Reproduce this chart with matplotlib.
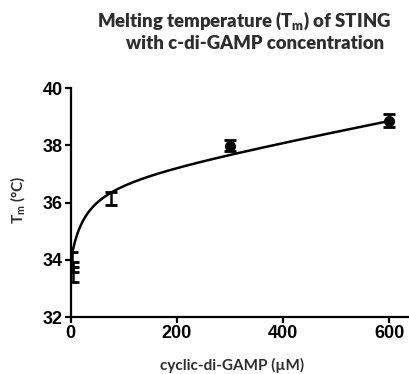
import numpy as np
import matplotlib
matplotlib.use("Agg")
import matplotlib.pyplot as plt

# data
conc = [3, 4, 5, 75, 300, 600]
tm = [34.02, 33.76, 33.50, 36.15, 37.99, 38.86]
tm_err = [0.26, 0.18, 0.26, 0.22, 0.2, 0.23]
show_marker = [False, False, False, False, True, True]

# points along the fitted curve
curve_x = [2, 16, 29, 41, 54, 70, 77, 137, 200, 262, 300, 457, 600]
curve_y = [34.2, 34.96, 35.53, 35.94, 36.17, 36.29, 36.35, 36.81, 37.16, 37.45, 37.72, 38.32, 38.86]

xticks = [0, 200, 400, 600]
yticks = [32, 34, 36, 38, 40]

# smooth the curve: hyperbola + linear term, least squares over a grid of K
cx = np.array(curve_x, float)
cy = np.array(curve_y, float)
best = None
for k in np.linspace(2, 200, 400):
    A = np.column_stack([np.ones_like(cx), cx / (k + cx), cx])
    coef, res, _, _ = np.linalg.lstsq(A, cy, rcond=None)
    err = np.sum((A @ coef - cy) ** 2)
    if best is None or err < best[0]:
        best = (err, k, coef)
_, k, coef = best
xs = np.linspace(min(curve_x), max(curve_x), 400)
ys = coef[0] + coef[1] * xs / (k + xs) + coef[2] * xs

plt.rcParams["mathtext.fontset"] = "custom"
plt.rcParams["mathtext.rm"] = "Lato:bold"
plt.rcParams["mathtext.it"] = "Lato:bold"

grey = "#2e2e2e"
fig = plt.figure(figsize=(4.09, 3.74), dpi=100)
ax = fig.add_axes([0.173, 0.152, 0.827, 0.612])

ax.plot(xs, ys, color="black", lw=1.8, zorder=2)
for x, y, e, m in zip(conc, tm, tm_err, show_marker):
    ax.errorbar(x, y, yerr=e, fmt="o" if m else "none", color="black",
                ms=7, elinewidth=1.8, capsize=4.5, capthick=2, zorder=3)

ax.set_xlim(0, 637)
ax.set_ylim(32, 40)
ax.set_xticks(xticks)
ax.set_yticks(yticks)
for s in ["top", "right"]:
    ax.spines[s].set_visible(False)
for s in ["left", "bottom"]:
    ax.spines[s].set_linewidth(1.6)
ax.tick_params(width=1.6, length=4, pad=2)
for lab in ax.get_xticklabels() + ax.get_yticklabels():
    lab.set_fontfamily("Liberation Sans")
    lab.set_fontweight("bold")
    lab.set_fontsize(13)

fig.text(0.567, 0.022, "cyclic-di-GAMP (\u00b5M)", ha="center", va="center",
         family="Lato", weight=700, size=11, color=grey)
fig.text(0.043, 0.465, "T$_\\mathregular{m}$ (\u00b0C)", rotation=90, ha="center", va="center",
         family="Lato", weight=700, size=11, color=grey)
fig.text(0.597, 0.945, "Melting temperature (T$_\\mathregular{m}$) of STING", ha="center", va="center",
         family="Lato", weight=800, size=13.3, color=grey)
fig.text(0.623, 0.885, "with c-di-GAMP concentration", ha="center", va="center",
         family="Lato", weight=800, size=13.3, color=grey)

fig.savefig("out.png", dpi=100)
